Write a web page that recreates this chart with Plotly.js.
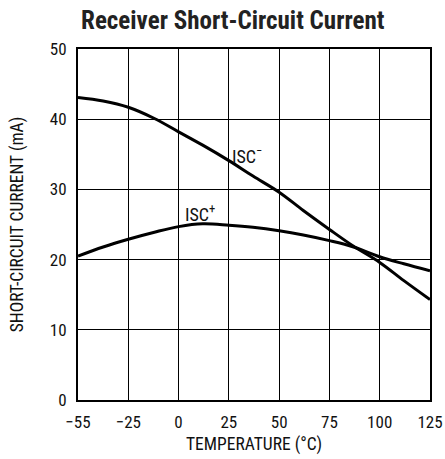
<!DOCTYPE html>
<html><head><meta charset="utf-8">
<script src="https://cdn.plot.ly/plotly-3.0.1.min.js"></script>
<style>html,body{margin:0;padding:0;background:#fff}#chart{width:445px;height:459px}</style>
</head><body><div id="chart"></div>
<script>
// Temperature (°C)
const tempMinus = [-55, -40, -25, -12, 0, 12, 25, 37, 50, 62, 75, 87, 100, 112, 125];
const iscMinus  = [43.1, 42.6, 41.7, 40.1, 38.2, 36.3, 34.1, 31.9, 29.6, 27.0, 24.3, 21.9, 19.6, 17.0, 14.3];
const tempPlus  = [-55, -40, -25, -12, 0, 12, 25, 37, 50, 62, 75, 87, 100, 112, 125];
const iscPlus   = [20.5, 21.8, 22.9, 23.9, 24.7, 25.1, 24.9, 24.6, 24.1, 23.5, 22.7, 21.8, 20.4, 19.4, 18.4];
const tickTemps = [-55, -25, 0, 25, 50, 75, 100, 125];
const tickText  = ['\u221255', '\u221225', '0', '25', '50', '75', '100', '125'];
const yTicks    = [0, 10, 20, 30, 40, 50];

// Axis is drawn with equal spacing between gridlines: -55..-25 compressed into one 25° cell.
function axisPos(t) { return t < -25 ? -25 + (t + 25) * 25 / 30 : t; }

const font = 'Roboto Condensed, Liberation Sans Narrow, sans-serif';
const line = {color: '#000', width: 3, shape: 'spline', smoothing: 1};

const data = [
  {x: tempMinus.map(axisPos), y: iscMinus, mode: 'lines', line: line, hoverinfo: 'skip'},
  {x: tempPlus.map(axisPos), y: iscPlus, mode: 'lines', line: line, hoverinfo: 'skip'}
];

const layout = {
  width: 445, height: 459,
  margin: {l: 78, r: 15, t: 49, b: 59},
  paper_bgcolor: '#fff', plot_bgcolor: '#fff',
  showlegend: false,
  font: {family: font, size: 17, color: '#111'},
  title: {text: '<b>Receiver Short-Circuit Current</b>', font: {family: font, size: 25, color: '#222'},
          x: 0.523, xanchor: 'center', y: 0.955, yanchor: 'middle'},
  xaxis: {
    range: [axisPos(-55), 125], tickvals: tickTemps.map(axisPos), ticktext: tickText,
    showgrid: true, gridcolor: '#000', gridwidth: 1, zeroline: false,
    showline: true, linecolor: '#000', linewidth: 2, mirror: true, ticks: '',
    ticklabelstandoff: 6,
    tickfont: {family: font, size: 17, color: '#111'},
    title: {text: 'TEMPERATURE (\u00b0C)', font: {family: font, size: 17.5, color: '#111'}, standoff: 6}
  },
  yaxis: {
    range: [0, 50], tickvals: yTicks,
    showgrid: true, gridcolor: '#000', gridwidth: 1, zeroline: false,
    showline: true, linecolor: '#000', linewidth: 2, mirror: true, ticks: '',
    ticklabelstandoff: 6,
    tickfont: {family: font, size: 17, color: '#111'},
    title: {text: 'SHORT-CIRCUIT CURRENT (mA)', font: {family: font, size: 17.5, color: '#111'}, standoff: 22}
  },
  annotations: [
    {x: 34, y: 34.9, xref: 'x', yref: 'y', text: 'ISC<sup>\u2212</sup>', showarrow: false,
     font: {family: font, size: 18, color: '#111'}},
    {x: 10.5, y: 26.6, xref: 'x', yref: 'y', text: 'ISC<sup>+</sup>', showarrow: false,
     font: {family: font, size: 18, color: '#111'}}
  ]
};

Plotly.newPlot('chart', data, layout, {staticPlot: true, displayModeBar: false});
</script></body></html>
